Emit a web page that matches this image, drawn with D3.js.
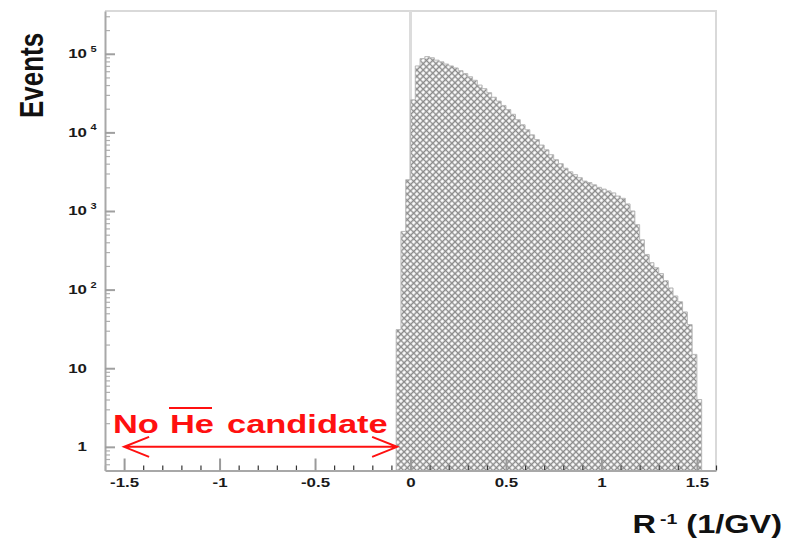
<!DOCTYPE html>
<html>
<head>
<meta charset="utf-8">
<script src="https://cdn.jsdelivr.net/npm/d3@7"></script>
<style>
  html, body { margin: 0; padding: 0; background: #fff; }
  svg { display: block; font-family: "Liberation Sans", Arial, Helvetica, sans-serif; }
</style>
</head>
<body>
<svg id="chart" width="795" height="540"></svg>
<script>
// Histogram of inverse rigidity: regular bins starting at binStart, width binWidth
const binStart = -0.075;
const binWidth = 0.025;
const counts = [
  31, 550, 2500, 26000, 70000, 87000, 92000, 89000, 83000, 79000,
  74000, 70000, 66000, 61000, 56000, 51000, 46000, 40000, 36000, 32000,
  28000, 25000, 22000, 19500, 17000, 14500, 12500, 10800, 9300, 8100,
  6900, 6000, 5200, 4500, 4000, 3500, 3150, 2900, 2650, 2400,
  2300, 2150, 2000, 1900, 1800, 1700, 1550, 1450, 1230, 1000,
  670, 430, 280, 220, 190, 160, 130, 105, 83, 70,
  52, 36, 15, 4
];

// Axis ticks
const xTicks = [-1.5, -1, -0.5, 0, 0.5, 1, 1.5];
const xMinorTicks = [-1.6, -1.4, -1.3, -1.2, -1.1, -0.9, -0.8, -0.7, -0.6, -0.4, -0.3, -0.2, -0.1,
                     0.1, 0.2, 0.3, 0.4, 0.6, 0.7, 0.8, 0.9, 1.1, 1.2, 1.3, 1.4, 1.6];
const yPowers = [0, 1, 2, 3, 4, 5];
const yMinorMantissas = [2, 3, 4, 5, 6, 7, 8, 9];

// Annotation: the empty negative-rigidity region
const arrowFrom = -1.5, arrowTo = -0.07, arrowLevel = 1;

const SX = 1.3; // horizontal text stretch

const svg = d3.select("#chart");
const x = d3.scaleLinear().domain([-1.6, 1.6]).range([105, 716]);
const y = d3.scaleLog().domain([0.5, 3.5e5]).range([470.5, 11]);

const defs = svg.append("defs");
const pat = defs.append("pattern")
  .attr("id", "hatch")
  .attr("patternUnits", "userSpaceOnUse")
  .attr("width", 4.5).attr("height", 4.5)
  .attr("patternTransform", "rotate(45)");
pat.append("rect").attr("width", 4.5).attr("height", 4.5).attr("fill", "#fff");
pat.append("path").attr("d", "M0 2.25H4.5M2.25 0V4.5")
  .attr("stroke", "#8a8a8a").attr("stroke-width", 1.5);

// Frame (top and right)
svg.append("path")
  .attr("d", `M${x(-1.6)},${y(3.5e5)}H${x(1.6)}V${y(0.5)}`)
  .attr("fill", "none").attr("stroke", "#d9d9d9").attr("stroke-width", 2);

// Zero line
svg.append("line")
  .attr("x1", x(0)).attr("x2", x(0))
  .attr("y1", y(3.5e5)).attr("y2", y(0.5))
  .attr("stroke", "#dcdcdc").attr("stroke-width", 3);

// Histogram
const bins = counts.map((c, i) => ({ x: binStart + i * binWidth, v: c }));
bins.push({ x: binStart + counts.length * binWidth, v: counts[counts.length - 1] });
const area = d3.area()
  .x(d => x(d.x))
  .y0(y(0.5))
  .y1(d => y(d.v))
  .curve(d3.curveStepAfter);
svg.append("path")
  .datum(bins)
  .attr("d", area)
  .attr("fill", "url(#hatch)")
  .attr("stroke", "#b8b8b8")
  .attr("stroke-width", 1);

// X axis
const gxMinor = svg.append("g").attr("transform", `translate(0,${y(0.5)})`)
  .call(d3.axisBottom(x).tickValues(xMinorTicks).tickSize(-5).tickFormat(""));
gxMinor.select(".domain").remove();
gxMinor.selectAll(".tick line").attr("stroke", "#333").attr("stroke-width", 1.2);

const gx = svg.append("g").attr("transform", `translate(0,${y(0.5)})`)
  .call(d3.axisBottom(x).tickValues(xTicks).tickSize(-12).tickSizeOuter(0)
        .tickPadding(7).tickFormat(d => String(d)));
gx.select(".domain").attr("stroke", "#a8a8a8").attr("stroke-width", 2);
gx.selectAll(".tick line").attr("stroke", "#9a9a9a").attr("stroke-width", 2);
gx.selectAll(".tick text")
  .attr("transform", `scale(${SX},1)`)
  .attr("font-size", 13).attr("font-weight", "bold").attr("fill", "#1a1a1a")
  .attr("font-family", "Liberation Sans, Arial, sans-serif");

// Y axis
const yMinor = [0.6, 0.7, 0.8, 0.9];
yPowers.forEach(p => yMinorMantissas.forEach(m => {
  const v = m * Math.pow(10, p);
  if (v < 3.5e5) yMinor.push(v);
}));
const gyMinor = svg.append("g").attr("transform", `translate(${x(-1.6)},0)`)
  .call(d3.axisLeft(y).tickValues(yMinor).tickSize(-5).tickFormat(""));
gyMinor.select(".domain").remove();
gyMinor.selectAll(".tick line").attr("stroke", "#b0b0b0").attr("stroke-width", 1.2);

const gy = svg.append("g").attr("transform", `translate(${x(-1.6)},0)`)
  .call(d3.axisLeft(y).tickValues(yPowers.map(p => Math.pow(10, p)))
        .tickSize(-10).tickSizeOuter(0).tickFormat(""));
gy.select(".domain").attr("stroke", "#a8a8a8").attr("stroke-width", 2);
gy.selectAll(".tick line").attr("stroke", "#a0a0a0").attr("stroke-width", 2);

const yLab = svg.append("g").attr("font-weight", "bold").attr("fill", "#1a1a1a");
yPowers.forEach(p => {
  const yy = y(Math.pow(10, p));
  const base = p === 0 ? "1" : "10";
  yLab.append("text")
    .attr("transform", `translate(87,${yy + 4.5}) scale(${SX},1)`)
    .attr("text-anchor", "end").attr("font-size", 13)
    .text(base);
  if (p >= 2) {
    yLab.append("text")
      .attr("transform", `translate(90.5,${yy - 2}) scale(${SX},1)`)
      .attr("text-anchor", "start").attr("font-size", 8.5)
      .text(String(p));
  }
});

// Axis titles
svg.append("text")
  .attr("transform", `translate(43,75.5) scale(${SX},1) rotate(-90)`)
  .attr("text-anchor", "middle").attr("font-size", 26).attr("font-weight", "bold")
  .attr("fill", "#111")
  .text("Events");

const xt = svg.append("text")
  .attr("transform", `translate(782,533) scale(${SX},1)`)
  .attr("text-anchor", "end").attr("font-size", 25).attr("font-weight", "bold")
  .attr("fill", "#111");
xt.append("tspan").text("R");
xt.append("tspan").attr("dx", 3).attr("dy", -9).attr("font-size", 15).text("-1");
xt.append("tspan").attr("dy", 9).text(" (1/GV)");

// Annotation
const red = "#ff1010";
const ann = svg.append("g").attr("fill", red).attr("font-weight", "bold").attr("font-size", 26.5);
[["No", 113], ["He", 170], ["candidate", 227]].forEach(([t, px]) => {
  ann.append("text")
    .attr("transform", `translate(${px},433) scale(${SX},1)`)
    .text(t);
});
svg.append("line")
  .attr("x1", 169).attr("x2", 212).attr("y1", 408).attr("y2", 408)
  .attr("stroke", red).attr("stroke-width", 2);

const ax0 = x(arrowFrom), ax1 = x(arrowTo), ay = y(arrowLevel);
svg.append("path")
  .attr("d", `M${ax0},${ay}H${ax1}` +
             `M${ax0 + 25},${ay - 10}L${ax0},${ay}L${ax0 + 25},${ay + 10}` +
             `M${ax1 - 25},${ay - 10}L${ax1},${ay}L${ax1 - 25},${ay + 10}`)
  .attr("fill", "none").attr("stroke", red).attr("stroke-width", 2)
  .attr("stroke-linejoin", "miter");
</script>
</body>
</html>
